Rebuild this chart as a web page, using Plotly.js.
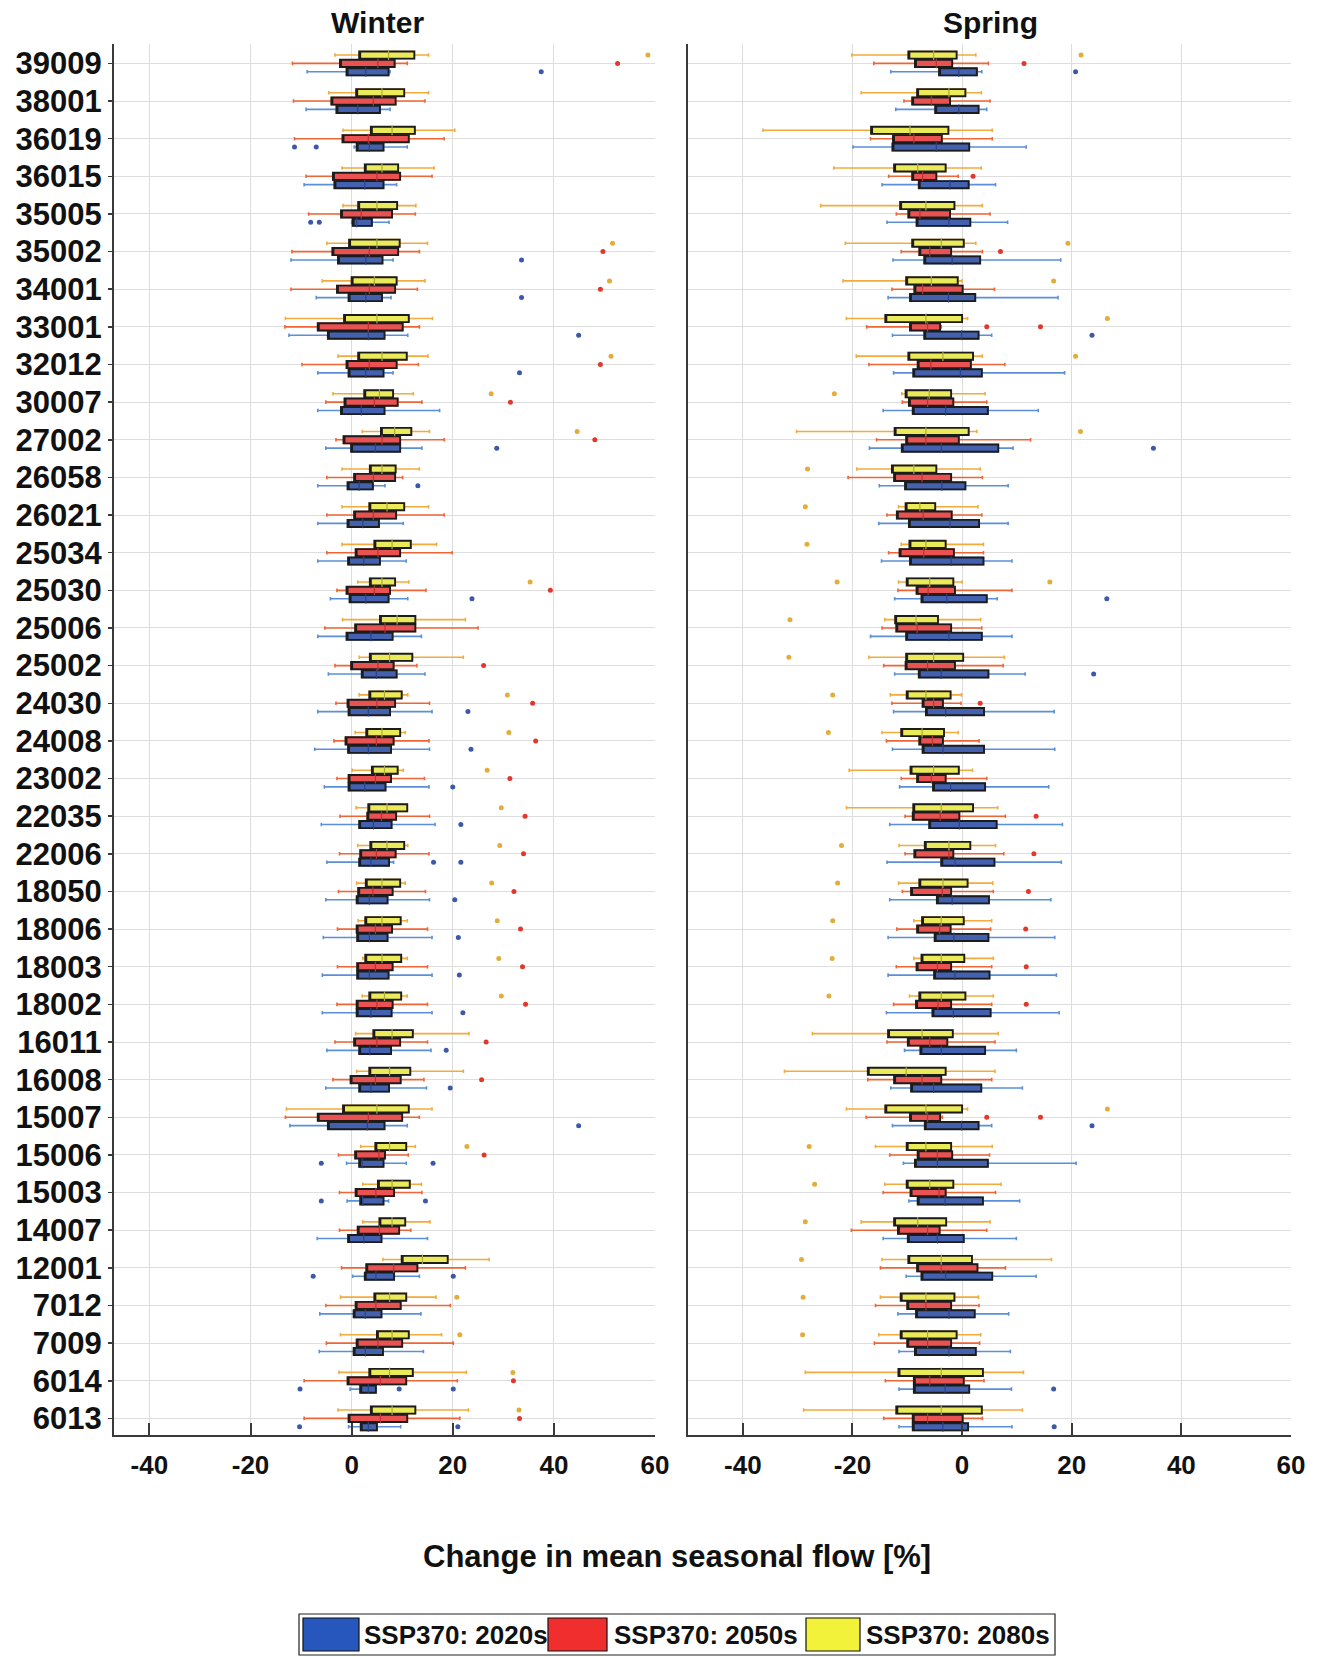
<!DOCTYPE html>
<html>
<head>
<meta charset="utf-8">
<script src="https://cdn.plot.ly/plotly-3.0.1.min.js"></script>
<style>html,body{margin:0;padding:0;background:#fff;}#chart{width:1325px;height:1657px;}</style>
</head>
<body>
<div id="chart"></div>
<script>
// ---------------- DATA ----------------
const stations = ['39009','38001','36019','36015','35005','35002','34001','33001','32012','30007','27002','26058','26021','25034','25030','25006','25002','24030','24008','23002','22035','22006','18050','18006','18003','18002','16011','16008','15007','15006','15003','14007','12001','7012','7009','6014','6013'];
const xTicks = [-40, -20, 0, 20, 40, 60];

// Winter, SSP370 2020s
const W20_lo  = [-8.8,-9.0,0.5,-9.4,0.0,-12.0,-7.0,-12.4,-6.7,-6.7,-5.1,-6.7,-6.7,-6.7,-4.2,-6.7,-4.6,-6.7,-7.3,-5.4,-6.0,-4.9,-5.1,-5.6,-5.8,-5.8,-4.9,-5.1,-12.2,-1.0,-0.9,-6.8,0.2,-6.3,-6.4,-0.3,-0.6];
const W20_q1  = [-1.0,-3.0,1.0,-3.4,0.2,-2.7,-0.6,-4.7,-0.6,-2.1,-0.1,-0.8,-0.8,-0.7,-0.4,-1.0,2.0,-0.6,-0.7,-0.6,1.5,1.5,1.0,1.1,1.1,1.0,1.5,1.5,-4.7,1.5,1.7,-0.7,2.6,0.4,0.4,1.7,1.8];
const W20_med = [2.8,1.2,3.5,2.6,1.0,2.8,2.8,3.3,2.8,1.9,4.7,1.5,2.2,2.4,2.8,3.8,4.9,3.3,3.3,2.6,4.3,3.8,3.5,3.5,3.5,3.8,3.6,3.8,3.1,2.1,2.2,2.4,4.8,2.7,2.7,3.3,3.3];
const W20_q3  = [7.3,5.6,6.3,6.3,4.0,6.1,6.0,6.5,6.3,6.5,9.6,4.2,5.4,5.6,7.3,8.1,8.9,7.6,7.8,6.7,7.9,7.4,7.1,7.1,7.3,7.9,7.8,7.4,6.5,6.3,6.3,5.9,8.4,5.9,6.2,4.8,5.0];
const W20_hi  = [7.6,7.6,11.0,8.9,7.4,8.2,7.8,11.1,8.2,17.4,13.9,6.6,10.2,10.8,11.1,13.8,14.5,15.9,15.4,15.3,16.5,8.3,15.4,15.9,15.9,15.9,15.7,14.8,11.0,10.8,7.3,15.0,13.4,13.7,14.2,4.8,9.7];
const W20_outSt  = ['39009','36019','36019','35005','35005','35002','34001','33001','32012','27002','26058','25030','24030','24008','23002','22035','22006','22006','18050','18006','18003','18002','16011','16008','15007','15006','15006','15003','15003','12001','12001','6014','6014','6014','6013','6013'];
const W20_outVal = [37.5,-11.3,-7.0,-8.1,-6.4,33.6,33.6,44.9,33.2,28.7,13.1,23.8,23.0,23.6,20.0,21.6,16.2,21.6,20.4,21.1,21.3,22.0,18.7,19.5,44.9,-6.0,16.1,-6.0,14.6,-7.6,20.1,-10.2,9.4,20.1,-10.3,21.0];

// Winter, SSP370 2050s
const W50_lo  = [-11.7,-11.5,-11.3,-9.0,-8.5,-11.8,-12.0,-13.2,-9.8,-5.1,-3.1,-4.9,-4.9,-4.9,-2.9,-5.3,-3.3,-3.1,-3.5,-2.9,-2.3,-2.4,-2.6,-2.8,-2.8,-2.9,-3.3,-3.7,-13.1,-2.6,-2.4,-2.4,-2.0,-5.1,-5.0,-9.4,-9.4];
const W50_q1  = [-2.3,-4.0,-1.8,-3.7,-2.1,-3.8,-2.9,-6.7,-1.0,-1.4,-1.6,0.5,0.5,0.8,-1.0,0.7,-0.1,-0.8,-1.2,-0.6,3.1,1.7,1.3,1.0,1.1,1.0,0.5,-0.2,-6.7,0.7,0.8,1.2,2.9,0.8,1.0,-0.8,-0.6];
const W50_med = [5.2,4.3,3.3,5.0,1.9,3.5,3.5,3.3,3.5,4.5,6.0,4.3,4.3,5.2,4.5,6.6,5.2,5.0,4.9,4.7,5.9,4.9,4.2,4.7,4.7,5.0,5.0,4.7,3.3,5.4,4.8,5.5,8.3,4.8,5.2,5.7,5.7];
const W50_q3  = [8.5,8.7,11.3,9.6,8.0,9.2,8.6,10.1,8.9,9.1,9.6,8.6,8.8,9.6,7.6,12.6,8.3,8.6,8.3,7.8,8.8,8.7,8.1,8.0,8.1,8.1,9.6,9.7,10.0,6.6,8.4,9.4,13.0,9.7,10.0,10.8,11.0];
const W50_hi  = [11.0,14.5,18.3,15.9,12.6,13.4,13.0,13.4,13.2,13.9,18.3,10.1,18.3,19.9,14.7,25.0,12.9,15.4,15.3,14.4,15.4,15.3,14.6,15.0,15.0,15.0,15.0,14.3,13.4,11.2,13.9,11.7,22.5,19.5,20.1,20.9,21.4];
const W50_outSt  = ['39009','35002','34001','32012','30007','27002','25030','25002','24030','24008','23002','22035','22006','18050','18006','18003','18002','16011','16008','15006','6014','6013'];
const W50_outVal = [52.6,49.7,49.2,49.2,31.4,48.1,39.3,26.1,35.8,36.4,31.3,34.3,34.0,32.1,33.4,33.8,34.4,26.6,25.7,26.2,32.0,33.2];

// Winter, SSP370 2080s
const W80_lo  = [-3.3,-4.5,-1.7,-1.9,-1.7,-4.9,-5.8,-13.1,-2.7,-3.7,2.1,-1.9,-1.9,-1.9,1.2,-1.8,1.5,1.5,0.7,0.1,0.9,1.2,1.0,1.3,2.2,2.1,0.8,1.0,-12.9,1.8,2.2,2.2,6.2,-2.2,-2.2,-2.5,-2.7];
const W80_q1  = [1.5,0.9,3.8,2.6,1.3,-0.5,0.0,-1.5,1.3,2.5,5.8,3.6,3.5,4.5,3.6,5.6,3.6,3.5,2.9,4.0,3.3,3.7,2.8,2.7,2.7,3.5,4.3,3.5,-1.7,4.7,5.2,5.5,9.9,4.5,5.0,3.5,3.8];
const W80_med = [7.3,6.0,8.0,6.0,5.0,5.0,4.5,5.0,6.0,5.5,8.5,6.0,7.0,8.0,6.0,9.0,7.5,6.5,6.0,6.5,7.0,7.0,6.0,6.0,6.0,6.5,8.0,7.5,5.0,7.5,8.0,8.0,14.0,7.5,8.0,7.5,8.0];
const W80_q3  = [12.4,10.4,12.5,9.2,9.0,9.5,8.9,11.3,10.9,8.2,11.8,8.7,10.4,11.7,8.6,12.6,12.0,9.9,9.6,9.1,11.0,10.4,9.6,9.7,9.8,9.8,12.1,11.6,11.3,10.8,11.5,10.6,19.0,10.8,11.3,12.1,12.6];
const W80_hi  = [15.2,15.2,20.4,16.3,12.7,15.0,14.5,16.0,15.1,12.2,15.4,13.4,15.2,16.8,11.3,22.5,22.1,11.1,10.6,10.2,11.0,11.1,10.6,11.0,11.0,11.0,23.2,22.1,15.9,12.6,13.8,15.5,27.2,16.7,17.8,22.7,23.1];
const W80_outSt  = ['39009','35002','34001','32012','30007','27002','25030','24030','24008','23002','22035','22006','18050','18006','18003','18002','15006','7012','7009','6014','6013'];
const W80_outVal = [58.6,51.6,51.0,51.3,27.6,44.6,35.3,30.8,31.1,26.8,29.6,29.3,27.7,28.8,29.1,29.6,22.8,20.8,21.4,31.9,33.1];

// Spring, SSP370 2020s
const S20_lo  = [-13.0,-12.1,-19.9,-14.6,-13.7,-12.6,-13.5,-12.7,-12.5,-14.4,-16.9,-15.1,-15.2,-14.7,-12.3,-16.7,-12.3,-12.5,-12.7,-11.4,-13.2,-13.7,-13.2,-13.5,-13.5,-13.8,-10.5,-13.0,-12.7,-10.7,-9.7,-14.4,-10.2,-11.7,-11.5,-11.5,-11.5];
const S20_q1  = [-4.2,-4.9,-12.7,-7.9,-8.3,-6.9,-9.5,-6.9,-8.9,-9.0,-11.0,-10.4,-9.7,-9.5,-7.4,-10.2,-7.9,-6.6,-7.2,-5.3,-6.0,-3.8,-4.6,-5.0,-5.1,-5.4,-7.6,-9.3,-6.8,-8.6,-8.1,-9.9,-7.4,-8.4,-8.6,-8.8,-9.0];
const S20_med = [-0.6,-0.6,-4.7,-2.2,-2.4,-1.8,-2.5,-0.1,-0.3,-3.0,-3.8,-3.7,-2.2,-2.0,-2.8,-2.4,-3.8,-3.0,-3.5,-2.1,-0.5,-1.3,-1.8,-1.5,-1.3,-1.6,-3.8,-5.2,-0.1,-4.5,-3.1,-4.5,-3.0,-2.4,-2.4,-3.1,-3.5];
const S20_q3  = [2.7,3.0,1.3,1.2,1.5,3.3,2.4,3.0,3.6,4.7,6.6,0.6,3.1,3.9,4.5,3.6,4.8,4.0,4.0,4.2,6.3,5.9,4.9,4.8,5.0,5.2,4.2,3.5,3.0,4.7,3.8,0.3,5.5,2.3,2.5,1.3,1.1];
const S20_hi  = [3.6,4.5,11.7,6.1,8.3,18.0,17.5,5.4,18.7,13.9,9.3,8.4,8.4,9.1,6.4,9.1,11.5,16.8,16.9,15.8,18.3,18.1,16.2,16.9,17.2,17.7,9.9,11.0,5.4,20.8,10.5,9.9,13.5,8.5,8.8,9.0,9.1];
const S20_outSt  = ['39009','33001','27002','25030','25002','15007','6014','6013'];
const S20_outVal = [20.7,23.7,34.9,26.4,24.0,23.7,16.7,16.8];

// Spring, SSP370 2050s
const S50_lo  = [-16.1,-10.6,-16.7,-13.4,-12.0,-11.1,-12.8,-17.4,-17.0,-10.9,-15.6,-20.8,-13.7,-13.4,-11.7,-14.6,-14.3,-12.8,-13.8,-11.1,-10.4,-10.4,-10.9,-11.9,-12.0,-12.5,-13.7,-17.2,-17.5,-13.2,-14.4,-20.2,-14.9,-15.8,-16.0,-14.0,-14.3];
const S50_q1  = [-8.6,-9.1,-12.6,-9.1,-9.8,-7.8,-8.7,-9.5,-8.1,-9.7,-10.2,-12.4,-11.9,-11.4,-8.3,-12.0,-10.3,-7.2,-7.8,-8.2,-9.0,-8.7,-9.3,-8.2,-8.3,-8.4,-9.9,-12.4,-9.5,-8.1,-9.4,-11.7,-8.2,-10.0,-10.0,-8.8,-9.0];
const S50_med = [-4.7,-5.6,-8.8,-7.2,-7.7,-5.9,-7.2,-6.3,-5.7,-6.3,-6.6,-7.3,-7.1,-7.0,-6.2,-8.2,-6.3,-5.2,-5.4,-5.6,-4.0,-2.4,-3.6,-4.1,-4.5,-4.4,-5.9,-7.3,-6.3,-4.5,-4.2,-6.3,-3.8,-6.6,-6.3,-5.9,-6.3];
const S50_q3  = [-1.8,-2.2,-3.7,-4.7,-2.2,-2.0,0.1,-4.0,1.6,-1.6,-0.6,-2.0,-1.9,-1.5,-1.3,-2.0,-1.3,-3.5,-3.5,-3.0,-0.5,-1.6,-2.0,-2.1,-2.0,-2.0,-2.7,-3.8,-4.0,-1.8,-3.0,-4.1,2.8,-2.0,-2.0,0.3,0.1];
const S50_hi  = [4.8,5.1,5.5,-0.7,5.1,3.7,5.9,-3.8,7.8,4.5,12.5,3.7,3.6,3.9,9.1,3.6,7.5,-0.2,3.1,4.5,7.9,7.6,5.7,5.2,5.4,5.4,6.0,5.4,-3.6,5.0,6.1,4.5,7.9,3.1,3.2,4.0,3.7];
const S50_outSt  = ['39009','36015','35002','33001','33001','24030','22035','22006','18050','18006','18003','18002','15007','15007'];
const S50_outVal = [11.3,2.0,7.0,4.5,14.3,3.3,13.5,13.1,12.1,11.6,11.7,11.7,4.5,14.3];

// Spring, SSP370 2080s
const S80_lo  = [-20.1,-18.4,-36.3,-23.4,-25.8,-21.3,-21.7,-21.1,-19.3,-11.0,-30.2,-19.2,-11.6,-11.1,-11.6,-14.1,-17.0,-13.1,-14.6,-20.6,-21.1,-11.5,-11.6,-8.8,-8.8,-9.6,-27.3,-32.4,-21.1,-15.8,-14.1,-18.4,-14.6,-14.9,-15.2,-28.6,-28.9];
const S80_q1  = [-9.8,-8.2,-16.6,-12.4,-11.3,-9.1,-10.2,-14.0,-9.8,-10.3,-12.3,-12.8,-10.3,-9.6,-10.1,-12.2,-10.2,-10.1,-11.1,-9.4,-8.9,-6.8,-7.8,-7.3,-7.4,-7.8,-13.5,-17.2,-14.0,-10.1,-10.1,-12.4,-9.8,-11.2,-11.2,-11.6,-12.0];
const S80_med = [-5.2,-2.4,-9.5,-8.1,-6.6,-3.8,-5.6,-6.6,-3.5,-6.0,-6.6,-8.8,-7.7,-6.6,-5.9,-8.4,-5.2,-6.6,-7.3,-5.2,-3.8,-2.4,-3.5,-3.8,-3.8,-3.8,-7.3,-10.2,-6.6,-6.6,-5.9,-8.1,-3.8,-6.6,-6.3,-3.8,-3.8];
const S80_q3  = [-1.0,0.6,-2.5,-3.0,-1.4,0.3,-0.8,0.0,2.0,-2.0,1.2,-4.7,-4.9,-3.0,-1.6,-4.4,0.2,-2.1,-3.3,-0.6,2.0,1.5,1.0,0.3,0.4,0.6,-1.7,-3.0,0.0,-2.0,-1.6,-2.9,1.8,-1.4,-1.0,3.8,3.6];
const S80_hi  = [2.5,3.5,5.5,3.5,3.7,2.5,0.0,1.0,3.7,4.2,2.7,3.3,2.9,3.9,0.0,3.4,7.7,-0.1,-0.7,1.9,6.5,6.1,5.6,5.4,5.7,5.7,6.6,6.0,1.0,5.5,7.1,5.1,16.3,3.0,3.4,11.2,11.0];
const S80_outSt  = ['39009','35002','34001','33001','32012','30007','27002','26058','26021','25034','25030','25030','25006','25002','24030','24008','22006','18050','18006','18003','18002','15007','15006','15003','14007','12001','7012','7009'];
const S80_outVal = [21.7,19.3,16.7,26.5,20.7,-23.3,21.6,-28.2,-28.6,-28.3,-22.8,16.0,-31.4,-31.6,-23.6,-24.4,-22.0,-22.7,-23.6,-23.7,-24.3,26.5,-27.9,-26.9,-28.6,-29.3,-29.0,-29.1];

const seriesNames = ['SSP370: 2020s', 'SSP370: 2050s', 'SSP370: 2080s'];
const seasonNames = ['Winter', 'Spring'];
const xTitle = 'Change in mean seasonal flow [%]';

// ---------------- STYLE ----------------
const FONT = 'Liberation Sans, Arial, Helvetica, sans-serif';
const STYLE = [
  {off:  0.222, fill:'#4361ae', wh:'#5b8fd8', med:'#2b4288', out:'#3b59a8', leg:'#2757bd'},
  {off:  0.0,   fill:'#ea5252', wh:'#ee6636', med:'#b63434', out:'#e2372b', leg:'#f02e2e'},
  {off: -0.222, fill:'#ebeb5a', wh:'#f2ab3c', med:'#aaaa3c', out:'#e2ad38', leg:'#f2f23a'}
];
const BW = 0.19;

const SEASONS = [
  {xa:'x',  ya:'y',  data:[
    {lo:W20_lo,q1:W20_q1,med:W20_med,q3:W20_q3,hi:W20_hi,outSt:W20_outSt,outVal:W20_outVal},
    {lo:W50_lo,q1:W50_q1,med:W50_med,q3:W50_q3,hi:W50_hi,outSt:W50_outSt,outVal:W50_outVal},
    {lo:W80_lo,q1:W80_q1,med:W80_med,q3:W80_q3,hi:W80_hi,outSt:W80_outSt,outVal:W80_outVal}]},
  {xa:'x2', ya:'y2', data:[
    {lo:S20_lo,q1:S20_q1,med:S20_med,q3:S20_q3,hi:S20_hi,outSt:S20_outSt,outVal:S20_outVal},
    {lo:S50_lo,q1:S50_q1,med:S50_med,q3:S50_q3,hi:S50_hi,outSt:S50_outSt,outVal:S50_outVal},
    {lo:S80_lo,q1:S80_q1,med:S80_med,q3:S80_q3,hi:S80_hi,outSt:S80_outSt,outVal:S80_outVal}]}
];

const idx = stations.map((s, i) => i);
const whiskers = [], boxes = [], medians = [], outliers = [];
SEASONS.forEach(season => {
  season.data.forEach((d, k) => {
    const st = STYLE[k];
    const y = idx.map(i => i + st.off);
    const common = {type:'box', orientation:'h', y:y, width:BW, boxpoints:false,
      xaxis:season.xa, yaxis:season.ya, showlegend:false, hoverinfo:'skip', name:seriesNames[k]};
    whiskers.push(Object.assign({}, common, {
      q1:d.q1, median:d.med, q3:d.q3, lowerfence:d.lo, upperfence:d.hi,
      whiskerwidth:0.5, line:{color:st.wh, width:1.6}, fillcolor:'rgba(0,0,0,0)'}));
    boxes.push(Object.assign({}, common, {
      q1:d.q1, median:d.q1, q3:d.q3, lowerfence:d.q1, upperfence:d.q3,
      whiskerwidth:0, line:{color:'#1c1c1c', width:1.9}, fillcolor:st.fill}));
    medians.push({type:'scatter', mode:'markers', x:d.med, y:y, xaxis:season.xa, yaxis:season.ya,
      showlegend:false, hoverinfo:'skip',
      marker:{symbol:'line-ns', size:7, line:{color:st.med, width:1.2}}});
    outliers.push({type:'scatter', mode:'markers', x:d.outVal,
      y:d.outSt.map(s => stations.indexOf(s) + st.off), xaxis:season.xa, yaxis:season.ya,
      showlegend:false, hoverinfo:'skip',
      marker:{symbol:'circle', size:5, color:st.out, line:{width:0}}});
  });
});
const traces = whiskers.concat(boxes, medians, outliers);

// ---------------- LAYOUT ----------------
const L = 114, T = 44, R = 34, B = 222, W = 1325, H = 1657;
const PW = W - L - R, PH = H - T - B;
const fx = px => (px - L) / PW;
const fy = py => (T + PH - py) / PH;
const yRange = [36 + (1435 - 1418.4) / 37.64, -(63.4 - 44) / 37.64];

const xCommon = {
  tickvals:xTicks, ticktext:xTicks.map(String), showgrid:true, gridcolor:'#dcdcdc', gridwidth:1,
  zeroline:false, showline:true, linecolor:'#3a3a3a', linewidth:2,
  ticks:'inside', ticklen:12, tickwidth:2, tickcolor:'#3a3a3a',
  tickfont:{family:FONT, size:26, color:'#111', weight:'bold'}, ticklabelstandoff:6, fixedrange:true
};
const yCommon = {
  range:yRange, tickvals:idx, ticktext:stations, showgrid:true, gridcolor:'#dedede', gridwidth:1,
  zeroline:false, showline:true, linecolor:'#3a3a3a', linewidth:2, fixedrange:true
};

const legendShapes = [
  {type:'rect', xref:'paper', yref:'paper', x0:fx(299), x1:fx(1055), y0:fy(1655), y1:fy(1614),
   line:{color:'#222', width:1.2}, fillcolor:'#fff'}
];
const legendX = [[303,359,362],[548,607,612],[806,860,864]];
const legendAnn = [];
legendX.forEach((p, k) => {
  legendShapes.push({type:'rect', xref:'paper', yref:'paper', x0:fx(p[0]), x1:fx(p[1]),
    y0:fy(1651), y1:fy(1618), line:{color:'#111', width:1.2}, fillcolor:STYLE[k].leg});
  legendAnn.push({xref:'paper', yref:'paper', x:fx(p[2]), y:fy(1635), xanchor:'left', yanchor:'middle',
    text:'<b>' + seriesNames[k] + '</b>', showarrow:false, font:{family:FONT, size:26, color:'#111'}});
});

const layout = {
  width:W, height:H, margin:{l:L, r:R, t:T, b:B}, paper_bgcolor:'#fff', plot_bgcolor:'#fff',
  showlegend:false, hovermode:false,
  xaxis:Object.assign({}, xCommon, {domain:[0, fx(655)], range:[-47, 60], anchor:'y'}),
  xaxis2:Object.assign({}, xCommon, {domain:[fx(688), 1], range:[-50, 60], anchor:'y2'}),
  yaxis:Object.assign({}, yCommon, {anchor:'x', ticks:'outside', ticklen:4, tickwidth:1.5, tickcolor:'#3a3a3a',
    tickfont:{family:FONT, size:31, color:'#111', weight:'bold'}, ticklabelstandoff:0}),
  yaxis2:Object.assign({}, yCommon, {anchor:'x2', showticklabels:false, ticks:''}),
  shapes:legendShapes,
  annotations:[
    {xref:'paper', yref:'paper', x:fx(377), y:fy(23), xanchor:'center', yanchor:'middle', showarrow:false,
     text:'<b>' + seasonNames[0] + '</b>', font:{family:FONT, size:30, color:'#111'}},
    {xref:'paper', yref:'paper', x:fx(990), y:fy(23), xanchor:'center', yanchor:'middle', showarrow:false,
     text:'<b>' + seasonNames[1] + '</b>', font:{family:FONT, size:30, color:'#111'}},
    {xref:'paper', yref:'paper', x:fx(677), y:fy(1556), xanchor:'center', yanchor:'middle', showarrow:false,
     text:'<b>' + xTitle + '</b>', font:{family:FONT, size:31, color:'#111'}}
  ].concat(legendAnn)
};

Plotly.newPlot('chart', traces, layout, {displayModeBar:false, staticPlot:true});
</script>
</body>
</html>
